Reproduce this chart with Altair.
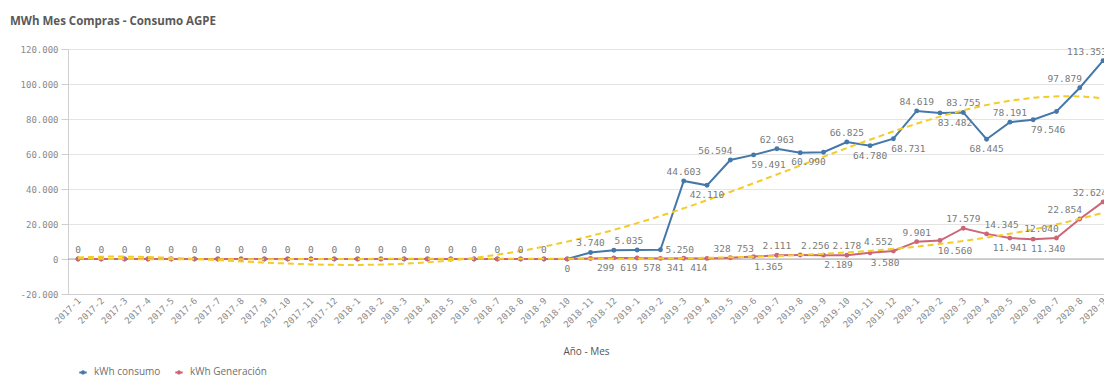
import json
import altair as alt
import pandas as pd

# Month categories, 2017-1 .. 2020-9
months = [f"{y}-{m}" for y in (2017, 2018, 2019) for m in range(1, 13)] + [f"2020-{m}" for m in range(1, 10)]

# Monthly energy (kWh)
consumo = [0] * 22 + [
    3740, 5035, 5110, 5250, 44603, 42110, 56594, 59491, 62963, 60700, 60990,
    66825, 64780, 68731, 84619, 83482, 83755, 68445, 78191, 79546, 84300,
    97879, 113353,
]
generacion = [0] * 22 + [
    299, 619, 578, 341, 414, 328, 753, 1365, 2111, 2256, 2189, 2178, 3580,
    4552, 9901, 10560, 17579, 14345, 11941, 11340, 12040, 22854, 32624,
]

# Value label placement: a=above, b=below (+/- nudged right/left), r=right of point,
# e=above and ending at the point, ''=no label
consumo_lbl = ["a"] * 21 + [
    "b", "a", "a+", "", "r", "a", "b", "a-", "b+", "a", "", "b-", "a", "b", "b+",
    "a", "b+", "a", "b", "a", "b+", "", "a-", "e",
]
generacion_lbl = [""] * 22 + [
    "b+", "b+", "b+", "b+", "b+", "a+", "a+", "b+", "a", "a+", "b+", "a", "b+",
    "a-", "a", "b+", "a", "a+", "b", "b+", "a-", "a-", "e",
]

series_names = ["kWh consumo", "kWh Generación"]
series_colors = ["#4477aa", "#cc6677"]

rows = []
for name, vals, lbls in zip(series_names, [consumo, generacion], [consumo_lbl, generacion_lbl]):
    for i, (m, v, p) in enumerate(zip(months, vals, lbls)):
        rows.append({"idx": i, "mes": m, "series": name, "value": v, "pos": p})
df = pd.DataFrame(rows)

mono = "DejaVu Sans Mono"
sans = "Open Sans"
label_grey = "#7a7a7a"

x_scale = alt.Scale(domain=[-0.43, 44.04], nice=False, zero=False)
x_axis = alt.Axis(
    values=list(range(len(months))),
    labelExpr=f"{json.dumps(months)}[datum.value]",
    labelAngle=-45,
    labelAlign="right",
    labelBaseline="top",
    labelFont=mono,
    labelFontSize=9,
    labelColor="#8a8a8a",
    labelPadding=2,
    labelOffset=-2,
    labelOverlap=False,
    labelBound=False,
    labelFlush=False,
    ticks=False,
    grid=False,
    domainColor="#cfcfcf",
    title="Año - Mes",
    titleFont=sans,
    titleFontSize=10,
    titleFontWeight="normal",
    titleColor="#555555",
    titleBaseline="middle",
    titleY=57,
)
y_scale = alt.Scale(domain=[-20000, 120000], nice=False, zero=False)
y_axis = alt.Axis(
    values=list(range(-20000, 120001, 20000)),
    format=",d",
    labelFont=mono,
    labelFontSize=9,
    labelColor="#8a8a8a",
    labelPadding=3,
    labelOverlap=False,
    labelFlush=False,
    tickSize=7,
    tickColor="#cfcfcf",
    domainColor="#cfcfcf",
    gridColor="#e4e4e4",
    title=None,
)
x_enc = alt.X("idx:Q", scale=x_scale, axis=x_axis)
y_enc = alt.Y("value:Q", scale=y_scale, axis=y_axis)
color_scale = alt.Scale(domain=series_names, range=series_colors)

base = alt.Chart(df)

# darker baseline at zero, drawn from the first month's row of one series
zero_rule = base.transform_filter(
    (alt.datum.idx == 0) & (alt.datum.series == series_names[0])
).mark_rule(color="#a8a8a8", strokeWidth=1).encode(
    y=y_enc,
    x=alt.value(0),
    x2=alt.value(1036),
)

lines = base.mark_line(strokeWidth=2).encode(
    x=x_enc,
    y=y_enc,
    color=alt.Color(
        "series:N",
        scale=color_scale,
        legend=alt.Legend(
            title=None,
            orient="none",
            direction="horizontal",
            legendX=10,
            legendY=318,
            symbolType="M-1,0L1,0M-0.3,0A0.3,0.3,0,1,1,0.3,0A0.3,0.3,0,1,1,-0.3,0Z",
            symbolSize=55,
            symbolStrokeWidth=2,
            labelFont=sans,
            labelFontSize=10,
            labelColor="#6f6f6f",
            labelOffset=6,
            columnPadding=10,
        ),
    ),
)

points = base.mark_circle(size=24, opacity=1).encode(
    x=x_enc,
    y=y_enc,
    color=alt.Color("series:N", scale=color_scale, legend=None),
)

trend = base.transform_regression(
    "idx", "value", groupby=["series"], method="poly", order=4
).mark_line(color="#f4cc2a", strokeWidth=2, strokeDash=[6, 4]).encode(
    x=x_enc, y=y_enc, detail="series:N"
)

text_style = dict(font=mono, fontSize=9.5, color=label_grey)
txt = alt.Text("value:Q", format=",d")

# mark settings for each placement code
nudge = 15
placements = {
    "a": dict(baseline="bottom", dy=-4),
    "a+": dict(baseline="bottom", dy=-4, dx=nudge),
    "a-": dict(baseline="bottom", dy=-4, dx=-nudge),
    "b": dict(baseline="top", dy=5),
    "b+": dict(baseline="top", dy=5, dx=nudge),
    "b-": dict(baseline="top", dy=5, dx=-nudge),
    "r": dict(align="left", baseline="middle", dx=5),
    "e": dict(align="right", baseline="bottom", dx=4, dy=-4),
}
label_layers = [
    base.transform_filter(alt.datum.pos == code)
    .mark_text(**props, **text_style)
    .encode(x=x_enc, y=y_enc, text=txt)
    for code, props in placements.items()
]

chart = (
    alt.layer(zero_rule, lines, points, trend, *label_layers)
    .properties(
        width=1036,
        height=245,
        autosize=alt.AutoSizeParams(type="none"),
        padding={"left": 68, "top": 49, "right": 0, "bottom": 81},
        background="white",
        title=alt.TitleParams(
            "MWh Mes Compras - Consumo AGPE",
            anchor="start",
            frame="group",
            dx=-58,
            offset=18,
            font=sans,
            fontSize=11.5,
            fontWeight="bold",
            color="#5a5a5a",
        ),
    )
    .configure(
        locale=alt.Locale(
            number={
                "decimal": ",",
                "thousands": ".",
                "grouping": [3],
                "currency": ["", " €"],
                "minus": "-",
            }
        )
    )
    .configure_axis(labelOverlap=False)
    .configure_view(stroke=None)
)

chart.save("out.html", embed_options={"renderer": "svg", "actions": False})
